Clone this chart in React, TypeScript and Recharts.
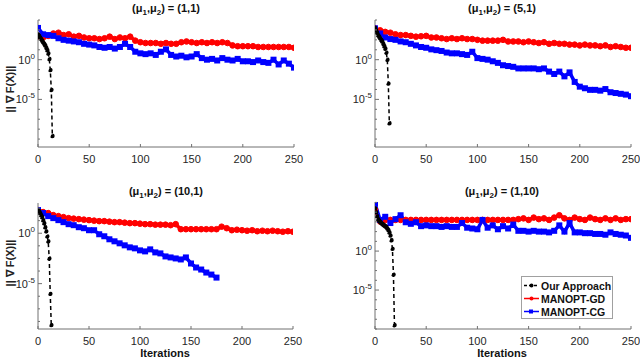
import React from 'react';
import { LineChart, Line, XAxis, YAxis } from 'recharts';

const FONT = '"Liberation Sans", Arial, sans-serif';
const RED = '#ff0000';
const BLUE = '#0000ff';

const ITERS = [
  0, 5, 10, 15, 20, 25, 30, 35, 40, 45, 50, 55, 60, 65, 70, 75, 80, 85, 90, 95, 100, 105, 110, 115, 120,
  125, 130, 135, 140, 145, 150, 155, 160, 165, 170, 175, 180, 185, 190, 195, 200, 205, 210, 215, 220,
  225, 230, 235, 240, 245, 250,
];
const X_TICKS = [0, 50, 100, 150, 200, 250];

// all values are log10 ||grad F(X)||
// (mu1, mu2) = (1, 1)
const GD_11 = [
  2.9, 2.8, 3.0, 3.3, 3.4, 3.1, 3.2, 2.9, 3.0, 2.8,
  2.7, 2.7, 2.6, 2.7, 2.9, 2.6, 2.8, 2.7, 2.9, 2.4,
  2.2, 2.1, 2.1, 2.1, 2.0, 2.1, 2.0, 2.0, 2.2, 2.3,
  2.2, 2.1, 2.2, 2.1, 2.2, 2.1, 2.2, 2.1, 1.8, 1.7,
  1.7, 1.7, 1.7, 1.6, 1.6, 1.6, 1.6, 1.6, 1.6, 1.6,
  1.5,
];
const CG_11 = [
  4.0, 3.2, 3.1, 3.0, 2.7, 2.5, 2.4, 2.3, 2.2, 2.0,
  1.9, 1.8, 1.6, 1.5, 1.6, 1.4, 1.6, 2.0, 1.6, 1.0,
  0.8, 0.7, 0.8, 0.6, 1.0, 1.3, 0.6, 0.4, 0.5, 0.3,
  0.4, 0.7, 0.2, 0.0, 0.1, -0.1, 0.2, 0.0, -0.1, 0.1,
  -0.2, -0.2, -0.3, -0.1, -0.3, -0.4, 0.0, -0.6, -0.1, -0.5,
  -1.0,
];
const OURS_IT_11 = [0, 1, 2, 3, 4, 5, 6, 7, 8, 9, 10, 11, 12, 13, 14];
const OURS_11 = [3.2, 3.0, 2.8, 2.6, 2.4, 2.2, 2.0, 1.8, 1.5, 1.2, 0.8, 0.1, -1.3, -3.8, -9.6];

// (mu1, mu2) = (5, 1)
const GD_51 = [
  3.95, 3.7, 3.5, 3.4, 3.2, 3.1, 3.1, 3.0, 2.9, 2.95,
  3.0, 2.8, 2.8, 2.7, 2.6, 2.7, 2.6, 2.7, 2.6, 2.6,
  2.5, 2.4, 2.4, 2.4, 2.4, 2.5, 2.3, 2.3, 2.3, 2.2,
  2.3, 2.2, 2.1, 2.2, 2.0, 2.1, 2.0, 2.0, 1.9, 1.9,
  1.8, 1.9, 1.8, 1.8, 1.7, 1.8, 1.6, 1.7, 1.6, 1.5,
  1.5,
];
const CG_51 = [
  3.95, 3.3, 2.8, 2.6, 2.5, 2.3, 2.2, 2.0, 1.8, 1.6,
  1.5, 1.3, 1.2, 1.1, 0.9, 0.8, 0.8, 0.7, 0.6, 1.0,
  0.2, 0.1, 0.0, -0.2, -0.4, -0.7, -0.8, -0.9, -1.1, -1.1,
  -1.1, -1.1, -1.2, -1.1, -1.5, -1.8, -1.5, -2.1, -1.6, -2.8,
  -3.4, -3.6, -3.8, -3.8, -3.9, -3.7, -4.1, -4.2, -4.3, -4.4,
  -4.6,
];
const OURS_IT_51 = [0, 1, 2, 3, 4, 5, 6, 7, 8, 9, 10, 11, 12, 13, 14];
const OURS_51 = [4.0, 3.7, 3.4, 3.1, 2.9, 2.7, 2.5, 2.3, 2.0, 1.7, 1.4, 0.9, 0.0, -3.0, -8.0];

// (mu1, mu2) = (10, 1)
const GD_101 = [
  2.3, 2.1, 2.0, 1.8, 1.7, 1.6, 1.5, 1.45, 1.4, 1.35,
  1.3, 1.25, 1.2, 1.2, 1.15, 1.1, 1.1, 1.05, 1.0, 1.0,
  0.95, 0.9, 0.9, 0.85, 0.85, 0.85, 0.8, 0.9, 0.4, 0.4,
  0.4, 0.4, 0.4, 0.4, 0.4, 0.4, 0.65, 0.5, 0.3, 0.35,
  0.3, 0.25, 0.3, 0.2, 0.25, 0.2, 0.25, 0.2, 0.15, 0.2,
  0.15,
];
const CG_101 = [
  2.3, 2.0, 1.7, 1.5, 1.3, 1.1, 0.9, 0.8, 0.6, 0.5,
  0.3, 0.3, -0.1, -0.3, -0.6, -0.8, -1.0, -1.2, -1.4, -1.5,
  -1.7, -1.8, -1.6, -1.9, -2.0, -2.3, -2.4, -2.5, -2.6, -2.4,
  -3.0, -3.4, -3.6, -3.9, -4.1, -4.4,
  null, null, null, null, null, null, null, null, null, null, null, null, null, null, null,
];
const OURS_IT_101 = [0, 1, 2, 3, 4, 5, 6, 7, 8, 9, 10, 11, 12, 13];
const OURS_101 = [2.3, 2.2, 2.0, 1.8, 1.6, 1.3, 1.0, 0.6, 0.2, -0.3, -0.8, -2.5, -6.0, -9.1];

// (mu1, mu2) = (1, 10)
const GD_110 = [
  5.3, 3.8, 4.0, 4.0, 4.0, 4.0, 4.0, 4.0, 4.0, 4.0,
  4.0, 4.0, 4.0, 4.0, 4.0, 4.0, 4.0, 4.0, 4.0, 4.0,
  4.0, 4.0, 4.0, 4.0, 4.0, 4.0, 4.0, 4.0, 4.1, 4.2,
  4.0, 4.3, 4.1, 4.2, 4.0, 4.3, 4.6, 4.2, 4.0, 4.3,
  4.1, 4.0, 4.3, 4.1, 4.0, 4.2, 4.0, 4.2, 4.0, 4.1,
  4.1,
];
const CG_110 = [
  6.1, 4.0, 4.4, 3.6, 4.1, 4.6, 3.7, 3.5, 3.7, 3.2,
  3.3, 3.2, 3.2, 3.1, 3.2, 3.1, 3.1, 3.6, 3.0, 2.9,
  2.8, 4.0, 3.0, 3.3, 2.8, 3.2, 2.9, 3.4, 2.6, 2.6,
  2.5, 2.6, 2.5, 2.5, 2.4, 2.6, 3.3, 2.5, 3.6, 2.4,
  2.4, 2.3, 2.3, 2.2, 2.2, 2.1, 2.4, 2.2, 2.1, 2.0,
  1.7,
];
const OURS_IT_110 = [0, 1, 2, 3, 4, 5, 6, 7, 8, 9, 10, 11, 12, 13, 14, 15, 16, 17, 18, 19];
const OURS_110 = [5.5, 5.0, 4.5, 4.1, 3.9, 3.75, 3.6, 3.5, 3.4, 3.3, 3.2, 3.1, 2.9, 2.7, 2.4, 2.0, 1.4, 0.3, -3.0, -9.5];

const Y_TICKS_A = [-10, -8.75, -7.5, -6.25, -5, -3.75, -2.5, -1.25, 0, 1.25, 2.5, 3.75, 5];
const Y_TICKS_B = [-8.75, -7.5, -6.25, -5, -3.75, -2.5, -1.25, 0, 1.25, 2.5];
const Y_TICKS_C = [-10, -8.75, -7.5, -6.25, -5, -3.75, -2.5, -1.25, 0, 1.25, 2.5, 3.75, 5, 6.25];
const Y_LABELED = [0, -5];

const AX = '#707070';
const BOX = '#b0b0b0';

const LeftTick = (props: any) => {
  const { x, y, payload } = props;
  const v = payload.value;
  const major = Y_LABELED.includes(v);
  return (
    <g>
      <line x1={x} x2={x + (major ? 4 : 2)} y1={y} y2={y} stroke={AX} />
      {major && (
        <text x={x - 3} y={y + 4} textAnchor="end" fontSize={11} fill="#262626" fontFamily={FONT}>
          10
          <tspan dy={-5} fontSize={8}>
            {v}
          </tspan>
        </text>
      )}
    </g>
  );
};

const RightTick = (props: any) => {
  const { x, y, payload } = props;
  const major = Y_LABELED.includes(payload.value);
  return <line x1={x} x2={x - (major ? 4 : 2)} y1={y} y2={y} stroke={BOX} />;
};

const BottomTick = (props: any) => {
  const { x, y, payload } = props;
  return (
    <g>
      <line x1={x} x2={x} y1={y} y2={y - 3} stroke={AX} />
      <text x={x} y={y + 16} textAnchor="middle" fontSize={11} fill="#262626" fontFamily={FONT}>
        {payload.value}
      </text>
    </g>
  );
};

const TopTick = (props: any) => {
  const { x, y } = props;
  return <line x1={x} x2={x} y1={y} y2={y + 3} stroke={BOX} />;
};

const SquareDot = (props: any) => {
  const { cx, cy, index } = props;
  if (cx == null || cy == null) return <g key={`s-${index}`} />;
  return <rect key={`s-${index}`} x={cx - 3} y={cy - 3} width={6} height={6} fill={BLUE} />;
};

interface PanelProps {
  pl: number;
  pr: number;
  pt: number;
  pb: number;
  domain: [number, number];
  yTicks: number[];
  gd: (number | null)[];
  cg: (number | null)[];
  oursIt: number[];
  ours: number[];
}

const Panel: React.FC<PanelProps> = ({ pl, pr, pt, pb, domain, yTicks, gd, cg, oursIt, ours }) => {
  const rows = ITERS.map((it, i) => ({ it, gd: gd[i], cg: cg[i] }));
  const oursRows = oursIt.map((it, i) => ({ it, ours: ours[i] }));
  return (
    <div style={{ position: 'absolute', left: pl - 38, top: pt - 20 }}>
      <LineChart
        width={pr - pl + 48}
        height={pb - pt + 40}
        data={rows}
        margin={{ top: 20, right: 10, bottom: 0, left: 8 }}
      >
        <XAxis
          dataKey="it"
          type="number"
          domain={[0, 250]}
          ticks={X_TICKS}
          interval={0}
          height={20}
          tickSize={0}
          tickMargin={0}
          tickLine={false}
          axisLine={{ stroke: AX }}
          tick={<BottomTick />}
          allowDataOverflow
        />
        <XAxis
          xAxisId="top"
          orientation="top"
          dataKey="it"
          type="number"
          domain={[0, 250]}
          ticks={X_TICKS}
          interval={0}
          height={0}
          tickSize={0}
          tickMargin={0}
          tickLine={false}
          axisLine={{ stroke: BOX }}
          tick={<TopTick />}
        />
        <YAxis
          type="number"
          domain={domain}
          ticks={yTicks}
          interval={0}
          width={30}
          tickSize={0}
          tickMargin={0}
          tickLine={false}
          axisLine={{ stroke: AX }}
          tick={<LeftTick />}
          allowDataOverflow
        />
        <YAxis
          yAxisId="right"
          orientation="right"
          type="number"
          domain={domain}
          ticks={yTicks}
          interval={0}
          width={0}
          tickSize={0}
          tickMargin={0}
          tickLine={false}
          axisLine={{ stroke: BOX }}
          tick={<RightTick />}
        />
        <Line
          type="linear"
          dataKey="gd"
          stroke={RED}
          strokeWidth={3.5}
          dot={{ r: 2.8, fill: RED, stroke: RED, strokeWidth: 1 }}
          isAnimationActive={false}
        />
        <Line
          type="linear"
          dataKey="cg"
          stroke={BLUE}
          strokeWidth={3.5}
          dot={SquareDot}
          connectNulls={false}
          isAnimationActive={false}
        />
        <Line
          data={oursRows}
          type="linear"
          dataKey="ours"
          stroke="#000"
          strokeWidth={1.5}
          strokeDasharray="4 3"
          dot={{ r: 1.6, fill: '#000', stroke: '#000' }}
          isAnimationActive={false}
        />
      </LineChart>
    </div>
  );
};

const Title: React.FC<{ cx: number; cy: number; mu: string }> = ({ cx, cy, mu }) => {
  const sub: React.CSSProperties = { fontSize: 8, position: 'relative', top: 3 };
  return (
    <div
      style={{
        position: 'absolute',
        left: cx - 100,
        top: cy - 7,
        width: 200,
        textAlign: 'center',
        fontSize: 11,
        lineHeight: '14px',
        fontWeight: 'bold',
        color: '#111',
        whiteSpace: 'nowrap',
      }}
    >
      (μ<span style={sub}>1</span>,μ<span style={sub}>2</span>) = ({mu})
    </div>
  );
};

const YLabel: React.FC<{ cy: number }> = ({ cy }) => (
  <div
    style={{
      position: 'absolute',
      left: 10 - 40,
      top: cy - 7,
      width: 80,
      lineHeight: '14px',
      textAlign: 'center',
      fontSize: 11,
      fontWeight: 'bold',
      color: '#222',
      transform: 'rotate(-90deg)',
      whiteSpace: 'nowrap',
    }}
  >
    || ∇ F(X)||
  </div>
);

const XLabel: React.FC<{ cx: number }> = ({ cx }) => (
  <div
    style={{
      position: 'absolute',
      left: cx - 40,
      top: 346,
      width: 80,
      lineHeight: '14px',
      textAlign: 'center',
      fontSize: 11,
      fontWeight: 'bold',
      color: '#111',
    }}
  >
    Iterations
  </div>
);

const LEGEND_ITEMS = [
  { name: 'Our Approach', color: '#000', dash: '3 2', square: false },
  { name: 'MANOPT-GD', color: RED, dash: undefined, square: false },
  { name: 'MANOPT-CG', color: BLUE, dash: undefined, square: true },
];

const LegendBox = () => (
  <div
    style={{
      position: 'absolute',
      left: 521,
      top: 276,
      width: 90,
      height: 41,
      border: '1px solid #a0a0a0',
      background: '#fff',
    }}
  >
    {LEGEND_ITEMS.map((item, i) => (
      <div key={item.name} style={{ position: 'absolute', left: 1, top: 2 + i * 13, height: 13, display: 'flex', alignItems: 'center' }}>
        <svg width={17} height={13}>
          <line x1={1} x2={16} y1={6.5} y2={6.5} stroke={item.color} strokeWidth={1.5} strokeDasharray={item.dash} />
          {item.square ? (
            <rect x={6} y={4.5} width={4} height={4} fill={item.color} />
          ) : (
            <circle cx={8.5} cy={6.5} r={2} fill={item.color} />
          )}
        </svg>
        <span style={{ fontSize: 10.5, fontWeight: 'bold', color: '#111', marginLeft: 1, whiteSpace: 'nowrap' }}>{item.name}</span>
      </div>
    ))}
  </div>
);

export default function App() {
  return (
    <div
      style={{
        position: 'absolute',
        left: 0,
        top: 0,
        width: 640,
        height: 360,
        background: '#fff',
        fontFamily: FONT,
        overflow: 'hidden',
      }}
    >
      <Panel pl={38} pr={294} pt={20} pb={147} domain={[-11, 5]} yTicks={Y_TICKS_A} gd={GD_11} cg={CG_11} oursIt={OURS_IT_11} ours={OURS_11} />
      <Panel pl={375} pr={631} pt={20} pb={147} domain={[-11, 5]} yTicks={Y_TICKS_A} gd={GD_51} cg={CG_51} oursIt={OURS_IT_51} ours={OURS_51} />
      <Panel pl={38} pr={293} pt={203} pb={329} domain={[-9.5, 3]} yTicks={Y_TICKS_B} gd={GD_101} cg={CG_101} oursIt={OURS_IT_101} ours={OURS_101} />
      <Panel pl={375} pr={631} pt={202} pb={329} domain={[-10, 6.3]} yTicks={Y_TICKS_C} gd={GD_110} cg={CG_110} oursIt={OURS_IT_110} ours={OURS_110} />
      <Title cx={166} cy={8} mu="1,1" />
      <Title cx={502} cy={8} mu="5,1" />
      <Title cx={166} cy={191} mu="10,1" />
      <Title cx={502} cy={191} mu="1,10" />
      <YLabel cy={89} />
      <YLabel cy={263} />
      <XLabel cx={165} />
      <XLabel cx={502} />
      <LegendBox />
    </div>
  );
}
